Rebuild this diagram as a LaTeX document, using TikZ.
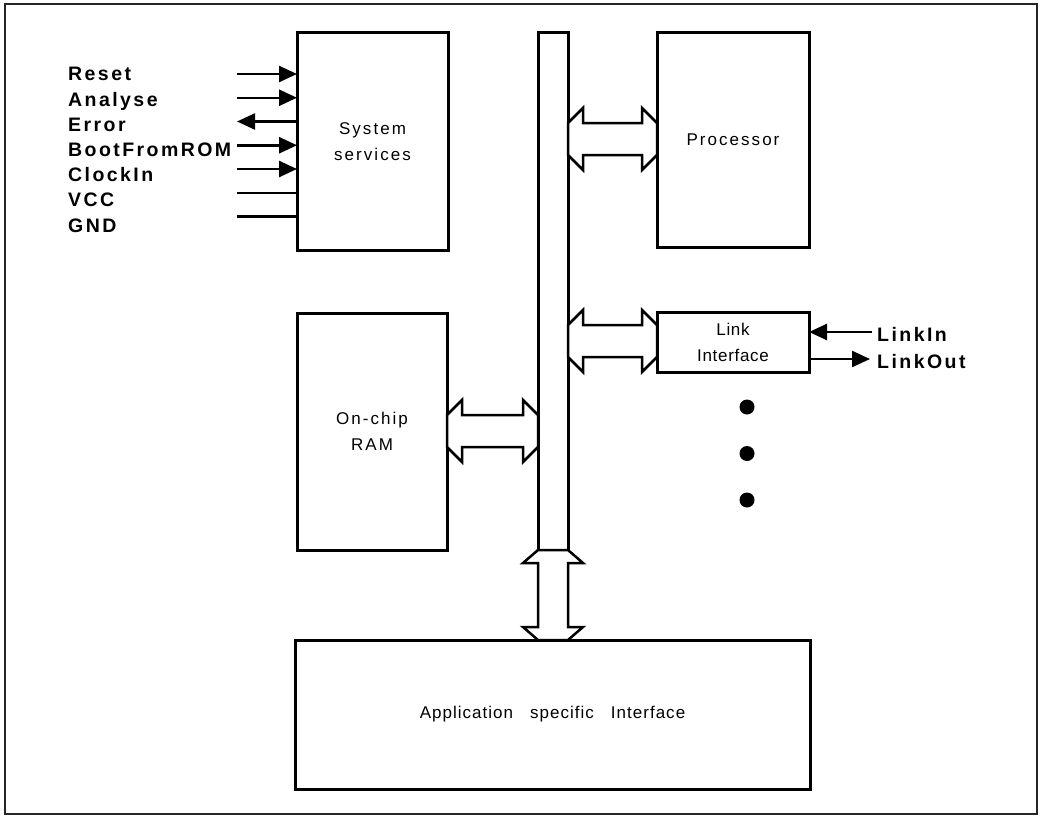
\documentclass[tikz,border=0pt]{standalone}
\usepackage{fontspec}
\setmainfont{Liberation Sans}
\newfontfamily\boxfont{Liberation Sans}[LetterSpace=12]
\newfontfamily\appfont{Liberation Sans}[LetterSpace=6]
\newfontfamily\linkfont{Liberation Sans}[LetterSpace=4]
\newfontfamily\sigfont{Liberation Sans}[LetterSpace=12.5]
\usetikzlibrary{calc, positioning, arrows.meta}

%% double block arrow between two vertical edges, centred at height #3
\newcommand{\busarrowh}[3]{%
  \draw[busarr] ($(#1 |- 0,#3)+(0,-16)$) -- ++(15,-15) -- ++(0,15)
    -- ($(#2 |- 0,#3)+(-15,-16)$) -- ++(0,-15) -- ++(15,15)
    -- ++(0,32) -- ++(-15,15) -- ++(0,-15)
    -- ($(#1 |- 0,#3)+(15,16)$) -- ++(0,15) -- ++(-15,-15) -- cycle;}

\begin{document}
\begin{tikzpicture}[x=1pt, y=-1pt,
  block/.style={
    rectangle, draw, line width=3pt, fill=white,
    inner sep=0pt, outer sep=0pt, align=center,
    font=\boxfont\fontsize{17}{26}\selectfont
  },
  busarr/.style={
    draw, line width=2.5pt, fill=white, line join=miter
  },
  siglabel/.style={
    anchor=base west, inner sep=0pt,
    font=\sigfont\bfseries\fontsize{19.5}{22}\selectfont
  },
  %% signal lines at the system services block
  sigin/.style={-{Triangle[length=18pt, width=16pt]}, line width=2.5pt},
  sigout/.style={{Triangle[length=18pt, width=16pt]}-, line width=2.5pt},
  signone/.style={-, line width=2.5pt},
  dotnode/.style={circle, fill, inner sep=0pt, minimum size=15pt}
]
\useasboundingbox (0,0) rectangle (1040,816);
\draw[line width=2pt, black!85] (5,4) rectangle (1037,814);

%% ── Blocks ─────────────────────────────────────────────────────────────────
\node[block, minimum width=151pt, minimum height=217pt] (sys) at (372.5, 141.5)
  {System\\services};
\node[block, minimum width=152pt, minimum height=214pt] (proc) at (733, 140)
  {Processor};
\node[block, minimum width=30pt, minimum height=517pt] (bus) at (553, 291.5) {};
\node[block, minimum width=150pt, minimum height=237pt] (ram) at (372, 431.5)
  {On-chip\\RAM};
\node[block, minimum width=152pt, minimum height=60pt,
      font=\linkfont\fontsize{17}{26}\selectfont] (link) at (733, 342)
  {Link\\Interface};
\node[block, minimum width=515pt, minimum height=149pt,
      font=\appfont\fontsize{17}{26}\selectfont] (app) at (552.5, 714.5)
  {Application\hspace{17pt}specific\hspace{17pt}Interface};

%% ── Bus connections ────────────────────────────────────────────────────────
\busarrowh{bus.east}{proc.west}{139}
\busarrowh{bus.east}{link.west}{341}
\busarrowh{ram.east}{bus.west}{431}

\draw[busarr] ($(bus.south)+(-15,0)$) -- ++(-15,13) -- ++(15,0)
  -- ($(app.north -| bus.south)+(-15,-13)$) -- ++(-15,0) -- ++(15,13)
  -- ++(30,0) -- ++(15,-13) -- ++(-15,0)
  -- ($(bus.south)+(15,13)$) -- ++(15,0) -- ++(-15,-13) -- cycle;

%% ── System signals ─────────────────────────────────────────────────────────
\foreach \sig/\k/\dir in {Reset/0/in, Analyse/1/in, Error/2/out,
    BootFromROM/3/in, ClockIn/4/in, VCC/5/none, GND/6/none}{
  \node[siglabel] (l-\sig) at (68, {81+25.17*\k}) {\sig};
  \coordinate (s-\sig) at (237, {74+23.75*\k});
  \draw[sig\dir] (s-\sig) -- (s-\sig -| sys.west);
}

%% ── Link signals ───────────────────────────────────────────────────────────
\coordinate (lin) at (872, 332);
\coordinate (lout) at (870, 359);
\draw[sigin] (lin) -- (lin -| link.east);
\draw[sigin] (lout -| link.east) -- (lout);
\node[siglabel] (linkin) at (877, 341) {LinkIn};
\node[siglabel] (linkout) at (877, 368) {LinkOut};

%% more links
\foreach \k in {0,1,2}
  \node[dotnode] (dot\k) at (747, {407+46.5*\k}) {};

\end{tikzpicture}
\end{document}
